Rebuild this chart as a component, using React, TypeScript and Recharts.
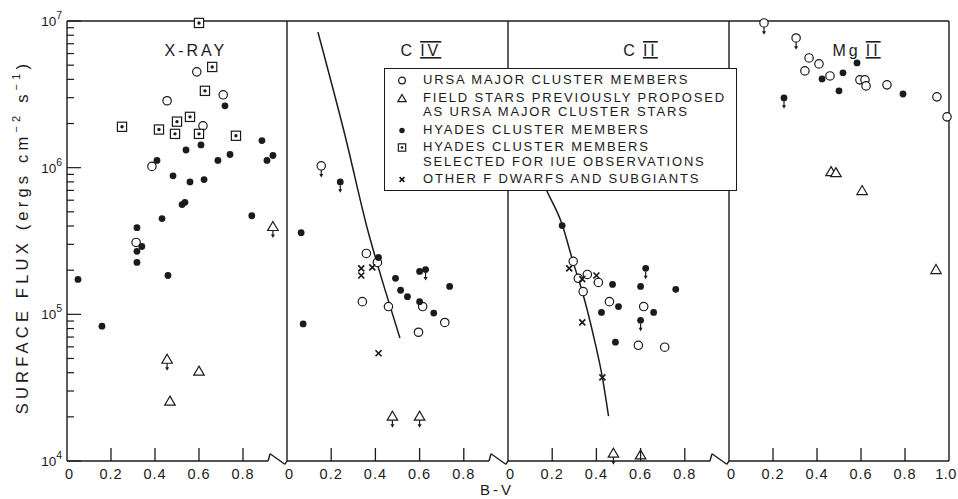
import React from "react";
import { ComposedChart, Scatter, Line, XAxis, YAxis, ReferenceLine, Legend } from "recharts";

type Pt = { bv: number; flux: number; limit?: boolean };

const FONT = '"Liberation Sans", Arial, sans-serif';
const INK = "#1b1b1b";

// axis ticks
const decades = [1e4, 1e5, 1e6, 1e7];
const minorSteps = [2, 3, 4, 5, 6, 7, 8, 9];
const fluxTicks = decades.flatMap((d, i) =>
  i < decades.length - 1 ? [d, ...minorSteps.map((m) => m * d)] : [d]
);
const bvTicks = [0, 0.2, 0.4, 0.6, 0.8, 1.0];
const bvInnerTicks = [0.2, 0.4, 0.6, 0.8];

// X-RAY panel
const xrayUrsa: Pt[] = [
  { bv: 0.59, flux: 4.5e6 }, { bv: 0.71, flux: 3.14e6 }, { bv: 0.455, flux: 2.86e6 },
  { bv: 0.618, flux: 1.93e6 }, { bv: 0.386, flux: 1.02e6 }, { bv: 0.314, flux: 3.09e5 },
];
const xrayField: Pt[] = [
  { bv: 0.936, flux: 3.97e5, limit: true }, { bv: 0.455, flux: 4.94e4, limit: true },
  { bv: 0.6, flux: 4.1e4 }, { bv: 0.468, flux: 2.56e4 },
];
const xrayHyades: Pt[] = [
  { bv: 0.718, flux: 2.64e6 }, { bv: 0.609, flux: 1.43e6 }, { bv: 0.541, flux: 1.32e6 },
  { bv: 0.886, flux: 1.53e6 }, { bv: 0.409, flux: 1.12e6 }, { bv: 0.686, flux: 1.12e6 },
  { bv: 0.741, flux: 1.23e6 }, { bv: 0.909, flux: 1.12e6 }, { bv: 0.936, flux: 1.21e6 },
  { bv: 0.482, flux: 8.8e5 }, { bv: 0.559, flux: 8.0e5 }, { bv: 0.623, flux: 8.3e5 },
  { bv: 0.523, flux: 5.6e5 }, { bv: 0.536, flux: 5.8e5 }, { bv: 0.84, flux: 4.7e5 },
  { bv: 0.432, flux: 4.5e5 }, { bv: 0.318, flux: 3.9e5 }, { bv: 0.34, flux: 2.9e5 },
  { bv: 0.318, flux: 2.69e5 }, { bv: 0.318, flux: 2.26e5 }, { bv: 0.05, flux: 1.73e5 },
  { bv: 0.459, flux: 1.84e5 }, { bv: 0.159, flux: 8.3e4 },
];
const xrayHyadesIue: Pt[] = [
  { bv: 0.6, flux: 9.7e6 }, { bv: 0.66, flux: 4.86e6 }, { bv: 0.627, flux: 3.34e6 },
  { bv: 0.559, flux: 2.22e6 }, { bv: 0.5, flux: 2.06e6 }, { bv: 0.25, flux: 1.9e6 },
  { bv: 0.418, flux: 1.82e6 }, { bv: 0.491, flux: 1.7e6 }, { bv: 0.6, flux: 1.7e6 },
  { bv: 0.768, flux: 1.65e6 },
];

// C IV panel
const civUrsa: Pt[] = [
  { bv: 0.155, flux: 1.03e6, limit: true }, { bv: 0.359, flux: 2.6e5 }, { bv: 0.409, flux: 2.26e5 },
  { bv: 0.614, flux: 1.13e5 }, { bv: 0.341, flux: 1.22e5 }, { bv: 0.459, flux: 1.13e5 },
  { bv: 0.714, flux: 8.8e4 }, { bv: 0.595, flux: 7.55e4 },
];
const civField: Pt[] = [
  { bv: 0.477, flux: 2.02e4, limit: true }, { bv: 0.6, flux: 2.02e4, limit: true },
];
const civHyades: Pt[] = [
  { bv: 0.241, flux: 8.0e5, limit: true }, { bv: 0.064, flux: 3.6e5 }, { bv: 0.073, flux: 8.6e4 },
  { bv: 0.414, flux: 2.44e5 }, { bv: 0.6, flux: 1.96e5 }, { bv: 0.627, flux: 2.02e5, limit: true },
  { bv: 0.491, flux: 1.76e5 }, { bv: 0.736, flux: 1.55e5 }, { bv: 0.514, flux: 1.46e5 },
  { bv: 0.545, flux: 1.32e5 }, { bv: 0.6, flux: 1.22e5 }, { bv: 0.664, flux: 1.02e5 },
];
const civOther: Pt[] = [
  { bv: 0.336, flux: 2.06e5 }, { bv: 0.336, flux: 1.84e5 }, { bv: 0.386, flux: 2.09e5 },
  { bv: 0.414, flux: 5.43e4 },
];
const civCurve: Pt[] = [
  { bv: 0.14, flux: 8.4e6 }, { bv: 0.262, flux: 1.67e6 }, { bv: 0.367, flux: 3.67e5 },
  { bv: 0.443, flux: 1.48e5 }, { bv: 0.511, flux: 6.9e4 },
];

// C II panel
const ciiUrsa: Pt[] = [
  { bv: 0.295, flux: 2.3e5 }, { bv: 0.318, flux: 1.76e5 }, { bv: 0.359, flux: 1.87e5 },
  { bv: 0.409, flux: 1.65e5 }, { bv: 0.34, flux: 1.43e5 }, { bv: 0.459, flux: 1.22e5 },
  { bv: 0.614, flux: 1.13e5 }, { bv: 0.59, flux: 6.15e4 }, { bv: 0.709, flux: 5.97e4 },
];
const ciiField: Pt[] = [
  { bv: 0.477, flux: 1.13e4, limit: true }, { bv: 0.6, flux: 1.1e4 },
];
const ciiHyades: Pt[] = [
  { bv: 0.245, flux: 4.03e5 }, { bv: 0.623, flux: 2.06e5, limit: true }, { bv: 0.473, flux: 1.6e5 },
  { bv: 0.6, flux: 1.55e5 }, { bv: 0.759, flux: 1.48e5 }, { bv: 0.5, flux: 1.13e5 },
  { bv: 0.423, flux: 1.03e5 }, { bv: 0.659, flux: 1.03e5 }, { bv: 0.6, flux: 9.1e4, limit: true },
  { bv: 0.486, flux: 6.46e4 },
];
const ciiOther: Pt[] = [
  { bv: 0.277, flux: 2.06e5 }, { bv: 0.336, flux: 1.74e5 }, { bv: 0.4, flux: 1.84e5 },
  { bv: 0.336, flux: 8.8e4 }, { bv: 0.427, flux: 3.72e4 },
];
const ciiCurve: Pt[] = [
  { bv: 0.12, flux: 1.1e6 }, { bv: 0.173, flux: 7.1e5 }, { bv: 0.245, flux: 4.1e5 },
  { bv: 0.295, flux: 2.26e5 }, { bv: 0.336, flux: 1.43e5 }, { bv: 0.39, flux: 6.8e4 },
  { bv: 0.427, flux: 3.72e4 }, { bv: 0.455, flux: 2.02e4 },
];

// Mg II panel
const mgiiUrsa: Pt[] = [
  { bv: 0.159, flux: 9.7e6, limit: true }, { bv: 0.305, flux: 7.66e6, limit: true },
  { bv: 0.364, flux: 5.6e6 }, { bv: 0.409, flux: 5.1e6 }, { bv: 0.345, flux: 4.57e6 },
  { bv: 0.459, flux: 4.22e6 }, { bv: 0.595, flux: 3.97e6 }, { bv: 0.618, flux: 3.97e6 },
  { bv: 0.623, flux: 3.61e6 }, { bv: 0.718, flux: 3.67e6 }, { bv: 0.945, flux: 3.04e6 },
  { bv: 0.991, flux: 2.22e6 },
];
const mgiiField: Pt[] = [
  { bv: 0.464, flux: 9.4e5 }, { bv: 0.486, flux: 9.25e5 }, { bv: 0.605, flux: 6.98e5 },
  { bv: 0.941, flux: 2.02e5 },
];
const mgiiHyades: Pt[] = [
  { bv: 0.423, flux: 4.03e6 }, { bv: 0.518, flux: 4.43e6 }, { bv: 0.582, flux: 5.18e6 },
  { bv: 0.5, flux: 3.34e6 }, { bv: 0.791, flux: 3.18e6 }, { bv: 0.25, flux: 2.99e6, limit: true },
];

// broken bottom axis (x in B-V, y in flux units)
const breakPath: Pt[] = [
  { bv: 0, flux: 1e4 }, { bv: 0.914, flux: 1e4 }, { bv: 0.923, flux: 1.12e4 },
  { bv: 0.99, flux: 9.5e3 }, { bv: 1.0, flux: 1e4 },
];
const fullBottom: Pt[] = [{ bv: 0, flux: 1e4 }, { bv: 1.0, flux: 1e4 }];

const legendItems = [
  { kind: "open", lines: ["URSA MAJOR CLUSTER MEMBERS"] },
  { kind: "tri", lines: ["FIELD STARS PREVIOUSLY PROPOSED", "AS URSA MAJOR CLUSTER STARS"] },
  { kind: "dot", lines: ["HYADES CLUSTER MEMBERS"] },
  { kind: "square", lines: ["HYADES CLUSTER MEMBERS", "SELECTED FOR IUE OBSERVATIONS"] },
  { kind: "cross", lines: ["OTHER F DWARFS AND SUBGIANTS"] },
];

const Marker = ({ cx, cy, payload, kind, s = 1 }: any) => {
  if (cx == null || cy == null) return null;
  let sym: React.ReactNode = null;
  let bottom = cy;
  if (kind === "open") {
    sym = <circle cx={cx} cy={cy} r={4.2 * s} fill="#fff" stroke={INK} strokeWidth={1.2} />;
    bottom = cy + 4.2 * s;
  } else if (kind === "dot") {
    sym = <circle cx={cx} cy={cy} r={3.4 * s} fill={INK} />;
    bottom = cy + 3.4 * s;
  } else if (kind === "square") {
    const h = 4.6 * s;
    sym = (
      <g>
        <rect x={cx - h} y={cy - h} width={2 * h} height={2 * h} fill="#fff" stroke={INK} strokeWidth={1.2} />
        <circle cx={cx} cy={cy} r={1.7 * s} fill={INK} />
      </g>
    );
    bottom = cy + h;
  } else if (kind === "tri") {
    const h = 5 * s;
    sym = (
      <path
        d={`M${cx},${cy - h} L${cx + h * 1.05},${cy + h * 0.8} L${cx - h * 1.05},${cy + h * 0.8} Z`}
        fill="#fff"
        stroke={INK}
        strokeWidth={1.2}
      />
    );
    bottom = cy + h * 0.8;
  } else if (kind === "cross") {
    const h = 3 * s;
    sym = (
      <path
        d={`M${cx - h},${cy - h} L${cx + h},${cy + h} M${cx + h},${cy - h} L${cx - h},${cy + h}`}
        stroke={INK}
        strokeWidth={1.7}
      />
    );
  }
  const limit = payload && payload.limit;
  return (
    <g>
      {sym}
      {limit && (
        <g>
          <line x1={cx} x2={cx} y1={bottom} y2={bottom + 5} stroke={INK} strokeWidth={1.2} />
          <path d={`M${cx - 2},${bottom + 4} L${cx + 2},${bottom + 4} L${cx},${bottom + 7.5} Z`} fill={INK} />
        </g>
      )}
    </g>
  );
};

const BottomTick = ({ x, y, payload, showEnd }: any) => {
  const v = payload.value as number;
  const inner = v > 0.01 && v < 0.99;
  const text = v >= 0.99 ? (showEnd ? "1.0" : "") : v < 0.01 ? "0" : v.toFixed(1);
  const shift = v < 0.01 ? 2.5 : v >= 0.99 ? -3 : 0;
  return (
    <g>
      {inner && <line x1={x} x2={x} y1={y} y2={y - 13} stroke={INK} strokeWidth={1.3} />}
      {text && (
        <text
          x={x + shift}
          y={y + 18}
          textAnchor="middle"
          fontSize={14.5}
          letterSpacing={v >= 0.99 ? 0.4 : 1}
          fill={INK}
          fontFamily={FONT}
        >
          {text}
        </text>
      )}
    </g>
  );
};

const TopTick = ({ x, y }: any) => (
  <line x1={x} x2={x} y1={y} y2={y + 13} stroke={INK} strokeWidth={1.3} />
);

const isDecade = (v: number) => {
  const e = Math.log10(v);
  return Math.abs(e - Math.round(e)) < 1e-6;
};

const LeftTick = ({ x, y, payload }: any) => {
  const v = payload.value as number;
  const dec = isDecade(v);
  return (
    <g>
      <line x1={x} x2={x + (dec ? 14 : 7)} y1={y} y2={y} stroke={INK} strokeWidth={1.2} />
      {dec && (
        <text x={x - 5} y={y + 5} textAnchor="end" fontSize={13.5} fill={INK} fontFamily={FONT}>
          10
          <tspan dy={-7} fontSize={10.5}>
            {Math.round(Math.log10(v))}
          </tspan>
        </text>
      )}
    </g>
  );
};

const RightTick = ({ x, y, payload }: any) => {
  const dec = isDecade(payload.value);
  return <line x1={x} x2={x - (dec ? 14 : 7)} y1={y} y2={y} stroke={INK} strokeWidth={1.2} />;
};

const NoTick = () => <g />;

const YTitle = ({ viewBox }: any) => {
  const cx = viewBox.x + 22;
  const cy = viewBox.y + viewBox.height / 2 - 4;
  return (
    <text
      x={cx}
      y={cy}
      transform={`rotate(-90 ${cx} ${cy})`}
      textAnchor="middle"
      dominantBaseline="central"
      fontSize={16.5}
      letterSpacing={4.2}
      fill={INK}
      fontFamily={FONT}
    >
      SURFACE FLUX (ergs cm<tspan dy={-6} fontSize={11}>−2</tspan>
      <tspan dy={6}> s</tspan>
      <tspan dy={-6} fontSize={11}>−1</tspan>
      <tspan dy={6}>)</tspan>
    </text>
  );
};

const PanelTitle = ({ viewBox, title, at }: any) => {
  const x = viewBox.x + viewBox.width * at;
  const y = viewBox.y + viewBox.height + 35;
  const [el, num] = title.split(" ");
  return (
    <text x={x} y={y} textAnchor="middle" fontSize={16} letterSpacing={3} fill={INK} fontFamily={FONT}>
      {el}
      {num && (
        <tspan dx={5} style={{ textDecoration: "overline underline" }}>
          {num}
        </tspan>
      )}
    </text>
  );
};

const LegendBox = () => (
  <div
    style={{
      width: 353,
      height: 123,
      boxSizing: "border-box",
      border: `1.4px solid ${INK}`,
      background: "#fff",
      paddingTop: 4,
      fontFamily: FONT,
      fontSize: 13,
      letterSpacing: 1.85,
      color: INK,
      textAlign: "left",
    }}
  >
    {legendItems.map((it, i) => (
      <div key={i} style={{ display: "flex", marginTop: i ? 3 : 0 }}>
        <svg width={38} height={14.5} style={{ flex: "none" }}>
          <Marker cx={17} cy={7.5} kind={it.kind} s={0.8} payload={{}} />
        </svg>
        <div style={{ lineHeight: "14.5px", whiteSpace: "nowrap" }}>
          {it.lines.map((l) => (
            <div key={l}>{l}</div>
          ))}
        </div>
      </div>
    ))}
  </div>
);

const panels = [
  { title: "X-RAY", at: 0.586, left: 0, width: 287, yw: 67, mr: 0, ursa: xrayUrsa, field: xrayField, hyades: xrayHyades, iue: xrayHyadesIue, other: [] as Pt[], curve: null as Pt[] | null, broken: true, last: false, first: true, legend: false, z: 1 },
  { title: "C IV", at: 0.606, left: 286, width: 222, yw: 1, mr: 0, ursa: civUrsa, field: civField, hyades: civHyades, iue: [] as Pt[], other: civOther, curve: civCurve, broken: true, last: false, first: false, legend: true, z: 5 },
  { title: "C II", at: 0.6, left: 507, width: 222, yw: 1, mr: 0, ursa: ciiUrsa, field: ciiField, hyades: ciiHyades, iue: [] as Pt[], other: ciiOther, curve: ciiCurve, broken: true, last: false, first: false, legend: false, z: 2 },
  { title: "Mg II", at: 0.58, left: 728, width: 231, yw: 1, mr: 9, ursa: mgiiUrsa, field: mgiiField, hyades: mgiiHyades, iue: [] as Pt[], other: [] as Pt[], curve: null as Pt[] | null, broken: false, last: true, first: false, legend: false, z: 1 },
];

const axisStroke = { stroke: INK, strokeWidth: 1.4 };

function Panel({ p }: { p: (typeof panels)[number] }) {
  const bottom = p.broken ? breakPath : fullBottom;
  return (
    <div style={{ position: "absolute", left: p.left, top: 0, zIndex: p.z }}>
      <ComposedChart width={p.width} height={499} margin={{ top: 20, right: p.mr, bottom: 8, left: 0 }}>
        <XAxis
          dataKey="bv"
          type="number"
          domain={[0, 1]}
          ticks={bvTicks}
          interval={0}
          height={30}
          axisLine={false}
          tickLine={false}
          tickSize={0}
          tickMargin={0}
          tick={(t: any) => <BottomTick {...t} showEnd={p.last} />}
        />
        <XAxis
          xAxisId="t"
          orientation="top"
          dataKey="bv"
          type="number"
          domain={[0, 1]}
          ticks={bvInnerTicks}
          interval={0}
          height={1}
          axisLine={axisStroke}
          tickLine={false}
          tickSize={0}
          tickMargin={0}
          tick={TopTick}
          label={{ content: (lp: any) => <PanelTitle viewBox={lp.viewBox} title={p.title} at={p.at} /> }}
        />
        <YAxis
          dataKey="flux"
          type="number"
          scale="log"
          domain={[1e4, 1e7]}
          ticks={fluxTicks}
          interval={0}
          width={p.yw}
          axisLine={axisStroke}
          tickLine={false}
          tickSize={0}
          tickMargin={0}
          tick={p.first ? LeftTick : NoTick}
          label={p.first ? { content: (lp: any) => <YTitle viewBox={lp.viewBox} /> } : undefined}
        />
        {p.last && (
          <YAxis
            yAxisId="r"
            orientation="right"
            dataKey="flux"
            type="number"
            scale="log"
            domain={[1e4, 1e7]}
            ticks={fluxTicks}
            interval={0}
            width={1}
            axisLine={axisStroke}
            tickLine={false}
            tickSize={0}
            tickMargin={0}
            tick={RightTick}
          />
        )}
        {bottom.slice(1).map((pt, i) => (
          <ReferenceLine
            key={`b${i}`}
            segment={[
              { x: bottom[i].bv, y: bottom[i].flux },
              { x: pt.bv, y: pt.flux },
            ]}
            stroke={INK}
            strokeWidth={1.4}
            ifOverflow="visible"
          />
        ))}
        {p.curve && (
          <Line
            data={p.curve}
            dataKey="flux"
            type="monotone"
            stroke={INK}
            strokeWidth={1.5}
            dot={false}
            activeDot={false}
            legendType="none"
            isAnimationActive={false}
          />
        )}
        <Scatter data={p.field} dataKey="flux" shape={(s: any) => <Marker {...s} kind="tri" />} isAnimationActive={false} />
        <Scatter data={p.ursa} dataKey="flux" shape={(s: any) => <Marker {...s} kind="open" />} isAnimationActive={false} />
        <Scatter data={p.iue} dataKey="flux" shape={(s: any) => <Marker {...s} kind="square" />} isAnimationActive={false} />
        <Scatter data={p.hyades} dataKey="flux" shape={(s: any) => <Marker {...s} kind="dot" />} isAnimationActive={false} />
        <Scatter data={p.other} dataKey="flux" shape={(s: any) => <Marker {...s} kind="cross" />} isAnimationActive={false} />
        {p.legend && (
          <Legend
            layout="vertical"
            align="center"
            verticalAlign="middle"
            content={() => <LegendBox />}
            wrapperStyle={{ left: 98, top: 68, width: 353, height: 123 }}
          />
        )}
      </ComposedChart>
    </div>
  );
}

export default function App() {
  return (
    <div
      style={{
        position: "absolute",
        left: 0,
        top: 0,
        width: 958,
        height: 499,
        background: "#fff",
        fontFamily: FONT,
        overflow: "hidden",
      }}
    >
      <style>{`.recharts-surface { overflow: visible; }`}</style>
      {panels.map((p) => (
        <Panel key={p.title} p={p} />
      ))}
      <div
        style={{
          position: "absolute",
          left: 447,
          width: 100,
          top: 481,
          textAlign: "center",
          fontSize: 15,
          letterSpacing: 3,
          color: INK,
          zIndex: 6,
        }}
      >
        B-V
      </div>
    </div>
  );
}
